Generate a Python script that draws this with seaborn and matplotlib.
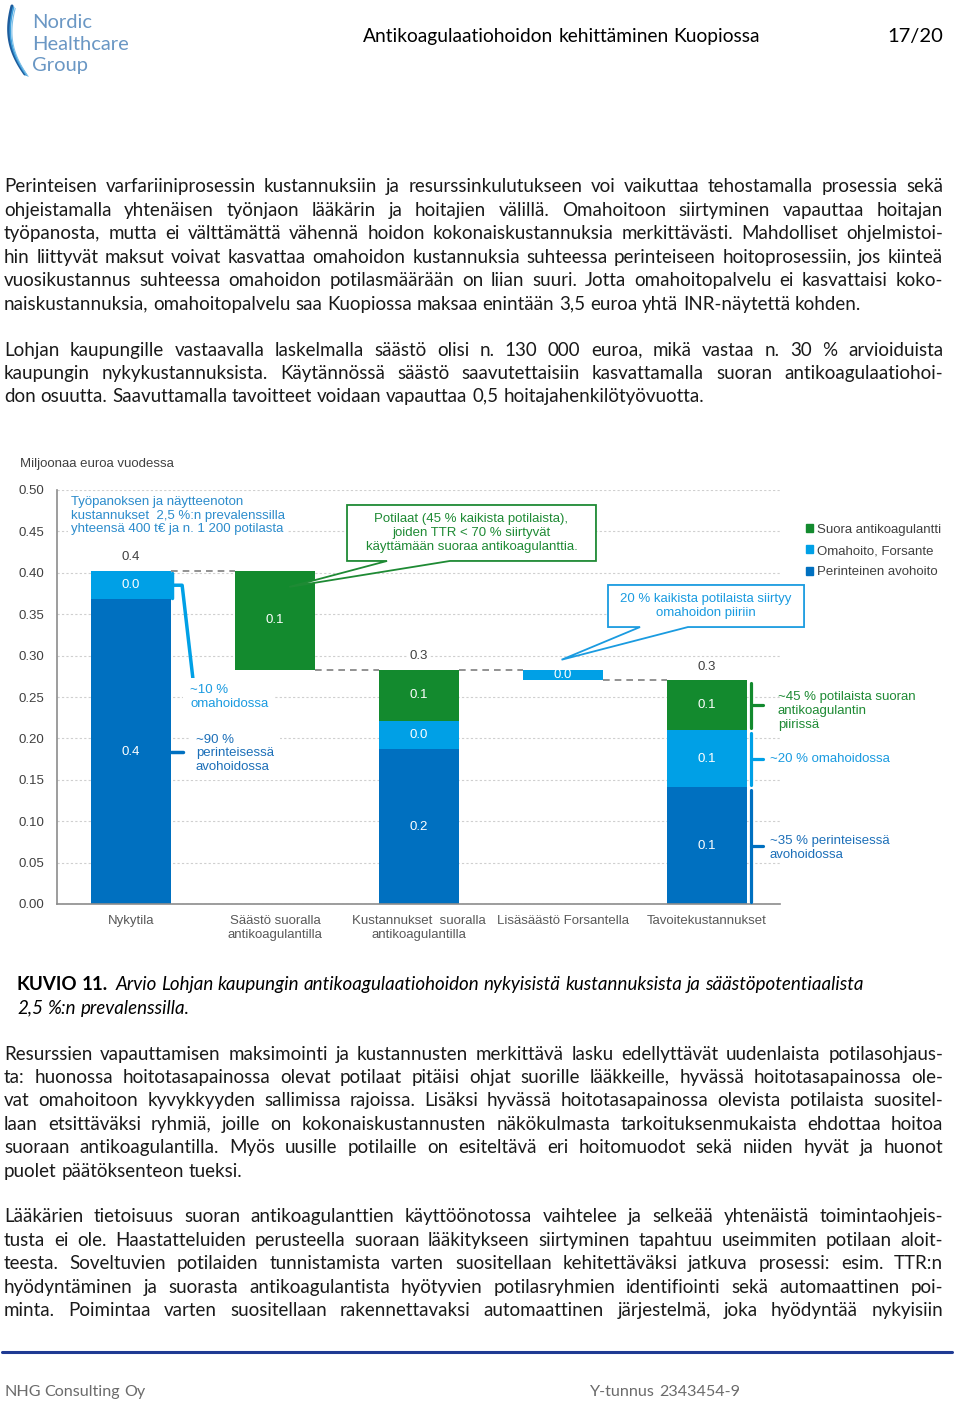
import matplotlib
matplotlib.use("Agg")
import matplotlib.pyplot as plt
import seaborn as sns
import pandas as pd
import numpy as np
from matplotlib.patches import Patch, Polygon
from matplotlib.lines import Line2D
from matplotlib.font_manager import FontProperties

W, H = 960, 1401

# chart data, million euros per year
categories = ["Nykytila", "Säästö suoralla\nantikoagulantilla",
              "Kustannukset  suoralla\nantikoagulantilla",
              "Lisäsäästö Forsantella", "Tavoitekustannukset"]
perinteinen = [0.368, 0.0, 0.187, 0.0, 0.141]
omahoito = [0.034, 0.0, 0.034, 0.013, 0.069]
suora = [0.0, 0.119, 0.062, 0.0, 0.060]
pohja = [0.0, 0.283, 0.0, 0.270, 0.0]  # invisible base of the floating waterfall steps
yticks = [0.0, 0.05, 0.10, 0.15, 0.20, 0.25, 0.30, 0.35, 0.40, 0.45, 0.50]
legend_labels = ["Suora antikoagulantti", "Omahoito, Forsante", "Perinteinen avohoito"]

# page text
header = "Antikoagulaatiohoidon kehittäminen Kuopiossa"
page_no = "17/20"
para1 = [
    "Perinteisen varfariiniprosessin kustannuksiin ja resurssinkulutukseen voi vaikuttaa tehostamalla prosessia sekä",
    "ohjeistamalla yhtenäisen työnjaon lääkärin ja hoitajien välillä. Omahoitoon siirtyminen vapauttaa hoitajan",
    "työpanosta, mutta ei välttämättä vähennä hoidon kokonaiskustannuksia merkittävästi. Mahdolliset ohjelmistoi-",
    "hin liittyvät maksut voivat kasvattaa omahoidon kustannuksia suhteessa perinteiseen hoitoprosessiin, jos kiinteä",
    "vuosikustannus suhteessa omahoidon potilasmäärään on liian suuri. Jotta omahoitopalvelu ei kasvattaisi koko-",
    "naiskustannuksia, omahoitopalvelu saa Kuopiossa maksaa enintään 3,5 euroa yhtä INR-näytettä kohden.",
]
para2 = [
    "Lohjan kaupungille vastaavalla laskelmalla säästö olisi n. 130 000 euroa, mikä vastaa n. 30 % arvioiduista",
    "kaupungin nykykustannuksista. Käytännössä säästö saavutettaisiin kasvattamalla suoran antikoagulaatiohoi-",
    "don osuutta. Saavuttamalla tavoitteet voidaan vapauttaa 0,5 hoitajahenkilötyövuotta.",
]
caption_bold = "KUVIO 11."
caption_lines = [
    "Arvio Lohjan kaupungin antikoagulaatiohoidon nykyisistä kustannuksista ja säästöpotentiaalista",
    "2,5 %:n prevalenssilla.",
]
para3 = [
    "Resurssien vapauttamisen maksimointi ja kustannusten merkittävä lasku edellyttävät uudenlaista potilasohjaus-",
    "ta: huonossa hoitotasapainossa olevat potilaat pitäisi ohjat suorille lääkkeille, hyvässä hoitotasapainossa ole-",
    "vat omahoitoon kyvykkyyden sallimissa rajoissa. Lisäksi hyvässä hoitotasapainossa olevista potilaista suositel-",
    "laan etsittäväksi ryhmiä, joille on kokonaiskustannusten näkökulmasta tarkoituksenmukaista ehdottaa hoitoa",
    "suoraan antikoagulantilla. Myös uusille potilaille on esiteltävä eri hoitomuodot sekä niiden hyvät ja huonot",
    "puolet päätöksenteon tueksi.",
]
para4 = [
    "Lääkärien tietoisuus suoran antikoagulanttien käyttöönotossa vaihtelee ja selkeää yhtenäistä toimintaohjeis-",
    "tusta ei ole. Haastatteluiden perusteella suoraan lääkitykseen siirtyminen tapahtuu useimmiten potilaan aloit-",
    "teesta. Soveltuvien potilaiden tunnistamista varten suositellaan kehitettäväksi jatkuva prosessi: esim. TTR:n",
    "hyödyntäminen ja suorasta antikoagulantista hyötyvien potilasryhmien identifiointi sekä automaattinen poi-",
    "minta. Poimintaa varten suositellaan rakennettavaksi automaattinen järjestelmä, joka hyödyntää nykyisiin",
]

DARK = "#0070c0"
LIGHT = "#00a0e6"
GREEN = "#138a2e"
TXT_DARK = "#1c6fb8"
TXT_LIGHT = "#1a9be0"
TXT_GREEN = "#1e8a34"
GRAY = "#404040"
BODY = "#1a1a1a"
CHART_FONT = ["Liberation Sans", "DejaVu Sans"]
BODY_FONT = ["Lato", "DejaVu Sans"]

sns.set_style("white")
plt.rcParams["font.family"] = CHART_FONT

fig = plt.figure(figsize=(W / 100, H / 100), dpi=100)
renderer = fig.canvas.get_renderer()


def fx(x):
    return x / W


def fy(y):
    return 1 - y / H


# ---------------- chart ----------------
df = pd.DataFrame({"kategoria": categories, "perinteinen": perinteinen,
                   "omahoito": omahoito, "suora": suora, "pohja": pohja})
b_dark = df["pohja"].to_numpy()
b_light = b_dark + df["perinteinen"].to_numpy()
b_green = b_light + df["omahoito"].to_numpy()
tops = b_green + df["suora"].to_numpy()

ax = fig.add_axes([fx(57), fy(904), (780 - 57) / W, (904 - 490) / H])
layers = [("perinteinen", DARK, b_dark), ("omahoito", LIGHT, b_light), ("suora", GREEN, b_green)]
for col, color, bottom in layers:
    sns.barplot(data=df, x="kategoria", y=col, color=color, saturation=1, width=0.56,
                bottom=bottom, errorbar=None, linewidth=0, zorder=2, ax=ax)

ax.set_ylim(0, 0.5)
ax.set_xlim(-0.514, 4.507)
ax.set_yticks(yticks)
ax.set_yticklabels([f"{v:.2f}" for v in yticks])
ax.set_xlabel("")
ax.set_ylabel("")
ax.yaxis.grid(True, linestyle=(0, (2, 2)), color="#cfcfcf", linewidth=0.8)
ax.set_axisbelow(True)
for s in ["top", "right"]:
    ax.spines[s].set_visible(False)
for s in ["left", "bottom"]:
    ax.spines[s].set_color("#8c8c8c")
    ax.spines[s].set_linewidth(1.2)
ax.tick_params(axis="y", length=3, color="#8c8c8c", pad=6, labelsize=9.5, labelcolor=GRAY)
ax.tick_params(axis="x", length=0, pad=8, labelsize=9.5, labelcolor="#595959")

# segment value labels
for i in range(len(categories)):
    for col, bottom in [("perinteinen", b_dark), ("omahoito", b_light), ("suora", b_green)]:
        v = df[col].iloc[i]
        if v > 0:
            ax.text(i, bottom[i] + v / 2, f"{v:.1f}", ha="center", va="center",
                    color="white", fontsize=9.5, zorder=3)
    if pohja[i] == 0:
        ax.annotate(f"{tops[i]:.1f}", (i, tops[i]), xytext=(0, 10), textcoords="offset points",
                    ha="center", va="center", fontsize=9.5, color=GRAY,
                    bbox=dict(boxstyle="square,pad=0.15", fc="white", ec="none"))

# waterfall connectors
for i in range(len(categories) - 1):
    ax.plot([i + 0.28, i + 0.72], [tops[i + 1], tops[i + 1]], color="#7f7f7f",
            linestyle=(0, (4, 3)), linewidth=1.2, zorder=1)

# legend
handles = [Patch(color=GREEN), Patch(color=LIGHT), Patch(color=DARK)]
ax.legend(handles, legend_labels, loc="upper left", bbox_to_anchor=(fx(794), fy(512)),
          bbox_transform=fig.transFigure, frameon=False, handlelength=0.55, handleheight=0.55,
          handletextpad=0.3, labelspacing=0.7, fontsize=9.5, labelcolor=GRAY)

fig.text(fx(20), fy(464), "Miljoonaa euroa vuodessa", fontsize=9.5, color=GRAY, va="center")

# annotations
ax.text(-0.417, 0.493, "Työpanoksen ja näytteenoton\nkustannukset  2,5 %:n prevalenssilla\n"
        "yhteensä 400 t€ ja n. 1 200 potilasta", ha="left", va="top", fontsize=9.5,
        color="#2c8ccc", linespacing=1.2,
        bbox=dict(boxstyle="square,pad=0.2", fc="white", ec="none"))


def callout(x0, x1, y0, y1, b0, b1, tip, text, color):
    # box (x0..x1, y0 bottom..y1 top) with a wedge tail from (b0..b1, y0) to tip
    verts = [(x0, y1), (x1, y1), (x1, y0), (b1, y0), tip, (b0, y0), (x0, y0)]
    ax.add_patch(Polygon(verts, closed=True, fc="white", ec=color, lw=1.3, zorder=4,
                         clip_on=False))
    ax.text((x0 + x1) / 2, (y0 + y1) / 2, text, ha="center", va="center", fontsize=9.5,
            color=color, linespacing=1.2, zorder=5)


callout(1.50, 3.229, 0.4143, 0.4819, 1.778, 2.215, (1.10, 0.383),
        "Potilaat (45 % kaikista potilaista),\njoiden TTR < 70 % siirtyvät\n"
        "käyttämään suoraa antikoagulanttia.", TXT_GREEN)
callout(3.3125, 4.674, 0.3345, 0.3853, 3.535, 3.868, (2.99, 0.295),
        "20 % kaikista potilaista siirtyy\nomahoidon piiriin", TXT_LIGHT)

# Nykytila brackets
mid_light = b_light[0] + omahoito[0] / 2
ax.plot([0.285, 0.285], [b_light[0] + 0.002, tops[0] - 0.002], color=LIGHT, lw=2.5, zorder=3)
ax.plot([0.285, 0.355, 0.43], [mid_light, mid_light, 0.272], color=LIGHT, lw=2.5,
        clip_on=False, zorder=3, solid_joinstyle="round")
ax.text(0.41, 0.25, "~10 %\nomahoidossa", ha="left", va="center", fontsize=9.5,
        color=TXT_LIGHT, linespacing=1.2,
        bbox=dict(boxstyle="square,pad=0.5", fc="white", ec="none"))
mid_dark = perinteinen[0] / 2
ax.plot([0.28, 0.36], [mid_dark, mid_dark], color=DARK, lw=2.5, zorder=3)
ax.text(0.45, 0.182, "~90 %\nperinteisessä\navohoidossa", ha="left", va="center",
        fontsize=9.5, color=TXT_DARK, linespacing=1.2,
        bbox=dict(boxstyle="square,pad=0.5", fc="white", ec="none"))

# Tavoite braces
t = len(categories) - 1
brace_specs = [(b_green[t], suora[t], GREEN), (b_light[t], omahoito[t], LIGHT),
               (b_dark[t], perinteinen[t], DARK)]
for bottom, val, color in brace_specs:
    ax.plot([t + 0.305, t + 0.305], [bottom + 0.003, bottom + val - 0.003], color=color,
            lw=2.3, clip_on=False, zorder=3)
    ax.plot([t + 0.305, t + 0.39], [bottom + val / 2, bottom + val / 2], color=color,
            lw=2.3, clip_on=False, zorder=3)
ax.text(t + 0.493, 0.233, "~45 % potilaista suoran\nantikoagulantin\npiirissä", ha="left",
        va="center", fontsize=9.5, color=TXT_GREEN, linespacing=1.2, clip_on=False)
ax.text(t + 0.4375, 0.175, "~20 % omahoidossa", ha="left", va="center", fontsize=9.5,
        color=TXT_LIGHT, clip_on=False)
ax.text(t + 0.4375, 0.068, "~35 % perinteisessä\navohoidossa", ha="left", va="center",
        fontsize=9.5, color=TXT_DARK, linespacing=1.2, clip_on=False)


# ---------------- page text, one text per word ----------------
X0, X1 = 4, 943
BASE = 5.5  # baseline sits below the visual line centre


def metrics(s, prop):
    return renderer.get_text_width_height_descent(s, prop, ismath=False)


def ink_gap(prop):
    return metrics("a a", prop)[0] - 2 * metrics("a", prop)[0]


body_size = 14.2
widest = max(metrics(l, FontProperties(family=BODY_FONT, size=body_size))[0]
             for l in para1[:-1] + para2[:-1] + para3[:-1] + para4)
if widest > (X1 - X0) * 0.975:
    body_size *= (X1 - X0) * 0.975 / widest


def put_words(text, y, justify=False, x0=X0, x1=X1, size=None, color=BODY, **fp):
    prop = FontProperties(family=BODY_FONT, size=size or body_size, **fp)
    words = text.split(" ")
    mets = [metrics(w, prop) for w in words]
    ws = [m[0] for m in mets]
    if justify and len(words) > 1:
        gap = (x1 - x0 - sum(ws)) / (len(words) - 1)
    else:
        gap = ink_gap(prop)
    row = round(y + BASE)
    x = x0
    for w, (wd, h, d) in zip(words, mets):
        # shift so the rasterised glyph baseline of every word lands on the same pixel row
        b = row + np.floor(h) - np.floor(h - d) - d
        fig.text(fx(x), fy(b), w, fontproperties=prop, color=color, va="baseline", ha="left")
        x += wd + gap
    return x - gap


def put_para(lines, y0, last_justified=False):
    for k, line in enumerate(lines):
        last = k == len(lines) - 1
        put_words(line, y0 + k * 23.45, justify=(not last) or last_justified)


put_para(para1, 187)
put_para(para2, 350)
put_para(para3, 1054)
put_para(para4, 1217, last_justified=True)

# caption
xe = put_words(caption_bold, 985, x0=17, color="black", weight="bold")
put_words(caption_lines[0], 985, x0=xe + 7, color="black", style="italic")
put_words(caption_lines[1], 1008, x0=17, color="black", style="italic")

# header
put_words(header, 36, x0=363, size=13.8, color="black")
pw = metrics(page_no, FontProperties(family=BODY_FONT, size=14.5))[0]
put_words(page_no, 36, x0=943 - pw, size=14.5, color="black")
for k, word in enumerate(["Nordic", "Healthcare", "Group"]):
    fig.text(fx(32), fy(23 + k * 21), word, fontsize=14.5, family=BODY_FONT,
             color="#6a97c4", va="center")
tt = np.linspace(0, 1, 60)
for off, col, lw in [(0, "#1d5c9c", 2.2), (4, "#3fa0dc", 1.2), (8, "#7fc0e8", 0.8)]:
    xs = 12 + off * 0.4 - 7 * np.sin(np.pi * tt * 0.8) + 17 * tt ** 2
    ys = 6 + off * 0.3 + 68 * tt
    fig.add_artist(Line2D(fx(xs), fy(ys), color=col, lw=lw, transform=fig.transFigure))

# footer
fig.add_artist(Line2D([fx(2), fx(952)], [fy(1352), fy(1352)], color="#1f3a93", lw=2.2,
                      transform=fig.transFigure))
put_words("NHG Consulting Oy", 1390, x0=4, size=11.6, color="#6b6b6b")
put_words("Y-tunnus 2343454-9", 1390, x0=590, size=11.6, color="#6b6b6b")

fig.savefig("out.png", dpi=100)
